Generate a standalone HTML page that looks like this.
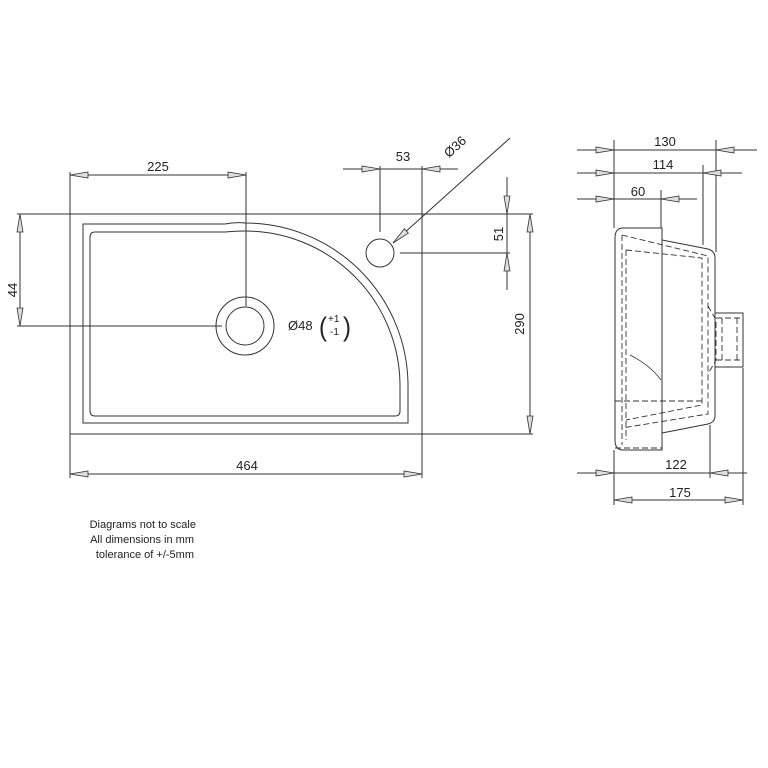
<!DOCTYPE html>
<html><head><meta charset="utf-8"><style>
html,body{margin:0;padding:0;background:#fff;}
svg{display:block;}
text{font-family:"Liberation Sans",sans-serif;fill:#222;}
</style></head><body>
<svg width="768" height="768" viewBox="0 0 768 768" xmlns="http://www.w3.org/2000/svg">
<defs>
<g id="ar"><polygon points="0,0 18,-3 18,3" fill="#ddd" stroke="#333" stroke-width="0.8"/></g>
</defs>
<g stroke="#333" stroke-width="1" fill="none">
<rect x="70" y="214" width="352" height="220"/>
<path d="M83,224 L225,224 Q235,222 245,223 A163,163 0 0 1 408,386 L408,423 L83,423 Z"/>
<path d="M95,232 L225,232 Q235,231 245,231 A155,155 0 0 1 400,386 L400,411 Q400,416 395,416 L95,416 Q90,416 90,411 L90,237 Q90,232 95,232 Z"/>
<circle cx="245" cy="326" r="29"/>
<circle cx="245" cy="326" r="19"/>
<circle cx="380" cy="253" r="14"/>
<line x1="70" y1="172" x2="70" y2="214"/>
<line x1="246" y1="172" x2="246" y2="306"/>
<line x1="70" y1="175" x2="246" y2="175"/>
<line x1="17" y1="214" x2="70" y2="214"/>
<line x1="17" y1="326" x2="222" y2="326"/>
<line x1="20" y1="214" x2="20" y2="326"/>
<line x1="343" y1="169" x2="458" y2="169"/>
<line x1="380" y1="166" x2="380" y2="232"/>
<line x1="422" y1="166" x2="422" y2="214"/>
<line x1="510" y1="138" x2="393" y2="243"/>
<line x1="422" y1="214" x2="533" y2="214"/>
<line x1="400" y1="253" x2="510" y2="253"/>
<line x1="507" y1="177" x2="507" y2="290"/>
<line x1="422" y1="434" x2="533" y2="434"/>
<line x1="530" y1="214" x2="530" y2="434"/>
<line x1="70" y1="434" x2="70" y2="478"/>
<line x1="422" y1="434" x2="422" y2="478"/>
<line x1="70" y1="474" x2="422" y2="474"/>

<path d="M662,228 L623,228 Q615,228 615,238 L615,440 Q615,450 623,450 L662,450 Z"/>
<path d="M662,240 L708,249 Q715,251 715,258 L715,416 Q715,422 708,424 L662,433"/>
<path d="M715,313 L743,313 L743,367 L715,367"/>
<g stroke-dasharray="6,3" stroke-width="0.9">
<path d="M622,235 L708,256 L708,414 L622,428"/>
<path d="M626,250 L702,258 L702,405 L626,420"/>
<line x1="622" y1="235" x2="622" y2="445"/>
<line x1="626" y1="250" x2="626" y2="440"/>
<line x1="615" y1="401" x2="702" y2="401"/>
<path d="M708,306 L716,320 L716,360 L708,374"/>
<line x1="722" y1="318" x2="722" y2="362"/>
<line x1="737" y1="318" x2="737" y2="362"/>
<line x1="716" y1="318" x2="743" y2="318"/>
<line x1="716" y1="360" x2="743" y2="360"/>
<line x1="615" y1="448" x2="662" y2="448"/>
</g>
<path d="M630,355 Q650,365 661,380" stroke-width="0.8"/>
<line x1="577" y1="150" x2="757" y2="150"/>
<line x1="577" y1="173" x2="742" y2="173"/>
<line x1="577" y1="199" x2="697" y2="199"/>
<line x1="614" y1="140" x2="614" y2="228"/>
<line x1="716" y1="140" x2="716" y2="252"/>
<line x1="703" y1="165" x2="703" y2="245"/>
<line x1="661" y1="190" x2="661" y2="228"/>
<line x1="614" y1="450" x2="614" y2="505"/>
<line x1="710" y1="425" x2="710" y2="478"/>
<line x1="743" y1="368" x2="743" y2="505"/>
<line x1="577" y1="473" x2="747" y2="473"/>
<line x1="614" y1="500" x2="743" y2="500"/>
</g>
<use href="#ar" transform="translate(70,175)"/>
<use href="#ar" transform="translate(246,175) rotate(180)"/>
<use href="#ar" transform="translate(20,214) rotate(90)"/>
<use href="#ar" transform="translate(20,326) rotate(-90)"/>
<use href="#ar" transform="translate(380,169) rotate(180)"/>
<use href="#ar" transform="translate(422,169)"/>
<use href="#ar" transform="translate(393,243) rotate(-41.9)"/>
<use href="#ar" transform="translate(507,214) rotate(-90)"/>
<use href="#ar" transform="translate(507,253) rotate(90)"/>
<use href="#ar" transform="translate(530,214) rotate(90)"/>
<use href="#ar" transform="translate(530,434) rotate(-90)"/>
<use href="#ar" transform="translate(70,474)"/>
<use href="#ar" transform="translate(422,474) rotate(180)"/>
<use href="#ar" transform="translate(614,150) rotate(180)"/>
<use href="#ar" transform="translate(716,150)"/>
<use href="#ar" transform="translate(614,173) rotate(180)"/>
<use href="#ar" transform="translate(703,173)"/>
<use href="#ar" transform="translate(614,199) rotate(180)"/>
<use href="#ar" transform="translate(661,199)"/>
<use href="#ar" transform="translate(614,473) rotate(180)"/>
<use href="#ar" transform="translate(710,473)"/>
<use href="#ar" transform="translate(614,500)"/>
<use href="#ar" transform="translate(743,500) rotate(180)"/>
<g font-size="13">
<text x="158" y="171" text-anchor="middle">225</text>
<text x="403" y="161" text-anchor="middle">53</text>
<text transform="translate(458,150) rotate(-42)" text-anchor="middle">Ø36</text>
<text transform="translate(17,290) rotate(-90)" text-anchor="middle">44</text>
<text transform="translate(503,234) rotate(-90)" text-anchor="middle">51</text>
<text transform="translate(524,324) rotate(-90)" text-anchor="middle">290</text>
<text x="247" y="470" text-anchor="middle">464</text>
<text x="288" y="330">Ø48</text>
<text x="665" y="146" text-anchor="middle">130</text>
<text x="663" y="169" text-anchor="middle">114</text>
<text x="638" y="196" text-anchor="middle">60</text>
<text x="676" y="469" text-anchor="middle">122</text>
<text x="680" y="497" text-anchor="middle">175</text>
</g>
<text x="319" y="336" font-size="24" transform="translate(319,336) scale(1,1.1) translate(-319,-336)">(</text>
<text x="328" y="322" font-size="10">+1</text>
<text x="330" y="335" font-size="10">-1</text>
<text x="343" y="336" font-size="24" transform="translate(343,336) scale(1,1.1) translate(-343,-336)">)</text>
<g font-size="11" text-anchor="end">
<text x="196" y="528">Diagrams not to scale</text>
<text x="194" y="543">All dimensions in mm</text>
<text x="194" y="558">tolerance of +/-5mm</text>
</g>
</svg>
</body></html>
